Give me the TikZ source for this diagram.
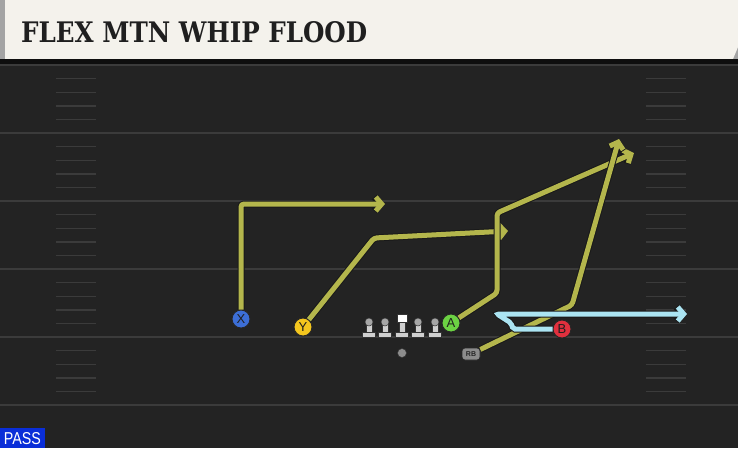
\documentclass[tikz,border=0pt]{standalone}
\usepackage{fontspec}
\setsansfont{Liberation Sans}
\newfontfamily\playfont{DejaVu Serif}
\usetikzlibrary{arrows.meta}
\definecolor{fieldgray}{HTML}{232323}
\definecolor{linegray}{HTML}{3B3B3B}
\definecolor{titlecream}{HTML}{F4F2EC}
\definecolor{edgegray}{HTML}{A4A4A4}
\definecolor{routeolive}{HTML}{B4B64C}
\definecolor{routesky}{HTML}{ABE4F2}
\definecolor{xblue}{HTML}{3C6ED6}
\definecolor{yyellow}{HTML}{F4C61E}
\definecolor{agreen}{HTML}{6CD243}
\definecolor{bred}{HTML}{E0303E}
\definecolor{passblue}{HTML}{0A2ED8}
\definecolor{linemangray}{HTML}{CFCFCF}
\definecolor{headgray}{HTML}{A6A6A6}
\tikzset{
	yardline/.style={draw=linegray, line width=1.6pt},
	hashmark/.style={draw=linegray, line width=1.4pt},
	player/.style={circle, draw=black!85, line width=0.9pt, minimum size=18pt, inner sep=0pt, font=\sffamily\fontsize{13}{13}\selectfont, text=black!88},
	route/.style={draw=routeolive, line width=5pt, rounded corners=3pt, -{Straight Barb[length=6pt,width=14pt]}, preaction={draw=black!90, line width=7pt}},
	lineman/.style={fill=linemangray, draw=black!80, line width=0.5pt}
}
\begin{document}
\begin{tikzpicture}[x=1pt,y=-1pt]
			\useasboundingbox (0,0) rectangle (738,448);
			\fill[fieldgray] (0,0) rectangle (738,448);
			\fill[edgegray] (0,0) rectangle (738,59);
			\fill[titlecream] (5,0) -- (738,0) -- (738,47) -- (733,59) -- (5,59) -- cycle;
			\fill[black!60!fieldgray] (0,59) rectangle (738,64);
			\node[anchor=south west, inner sep=0pt, text=black!88] (title) at (21,43) {\resizebox{346pt}{21pt}{\playfont\bfseries FLEX MTN WHIP FLOOD}};
			\foreach \m in {0,...,5}
				\draw[yardline] (0,{65+68*\m}) -- (738,{65+68*\m});
			\foreach \m in {0,...,4}
				\foreach \k in {1,...,4} {
					\draw[hashmark] (56,{65+68*\m+13.6*\k}) -- (96,{65+68*\m+13.6*\k});
					\draw[hashmark] (646,{65+68*\m+13.6*\k}) -- (686,{65+68*\m+13.6*\k});
				}
			\coordinate (xturn) at (241,204);
			\coordinate (xend) at (385,204);
			\coordinate (ybend) at (374,238);
			\coordinate (yend) at (508,231);
			\coordinate (aout) at (497,293);
			\coordinate (aturn) at (497,213);
			\coordinate (aend) at (634,153);
			\coordinate (rbcut) at (572,305);
			\coordinate (rbend) at (619,139);
			\coordinate (bback) at (513,329);
			\coordinate (bstep) at (511,323);
			\coordinate (bturn) at (497,314);
			\coordinate (bend) at (687,314);
			\foreach \x in {369,385,418,435} {
				\draw[lineman] (\x-6.5,337) rectangle (\x+6.5,332);
				\draw[lineman] (\x-3,332) rectangle (\x+3,324);
				\draw[lineman, fill=headgray] (\x,322) circle (4);
			}
			\draw[lineman] (395.5,337) rectangle (408.5,332);
			\draw[lineman] (399,332) rectangle (405,322);
			\draw[fill=white, draw=black!80, line width=0.5pt] (397,314) rectangle (407,322);
			\draw[fill=black!45, draw=black!80, line width=0.5pt] (402,353) circle (4.5);
			\node[player, fill=xblue] (X) at (241,319) {X};
			\node[player, fill=yyellow] (Y) at (303,327) {Y};
			\node[player, fill=agreen] (A) at (451,323) {A};
			\node[player, fill=bred] (B) at (562,329) {B};
			\node[draw=black!85, fill=black!45, rounded corners=3pt, minimum width=18pt, minimum height=12pt, inner sep=0pt, line width=0.7pt, font=\sffamily\bfseries\fontsize{7}{7}\selectfont, text=black!85] (RB) at (471,354) {RB};
			\draw[route] (X) -- (xturn) -- (xend);
			\draw[route] (Y) -- (ybend) -- (yend);
			\draw[route] (A) -- (aout) -- (aturn) -- (aend);
			\draw[route] (RB) -- (rbcut) -- (rbend);
			\draw[route, draw=routesky, rounded corners=2pt] (B) -- (bback) -- (bstep) -- (bturn) -- (bend);
			\fill[passblue] (0,428) rectangle (45,448);
			\node[inner sep=0pt, text=white] (pass) at (22.5,438.5) {\resizebox{37pt}{12pt}{\sffamily PASS}};
		\end{tikzpicture}
\end{document}
